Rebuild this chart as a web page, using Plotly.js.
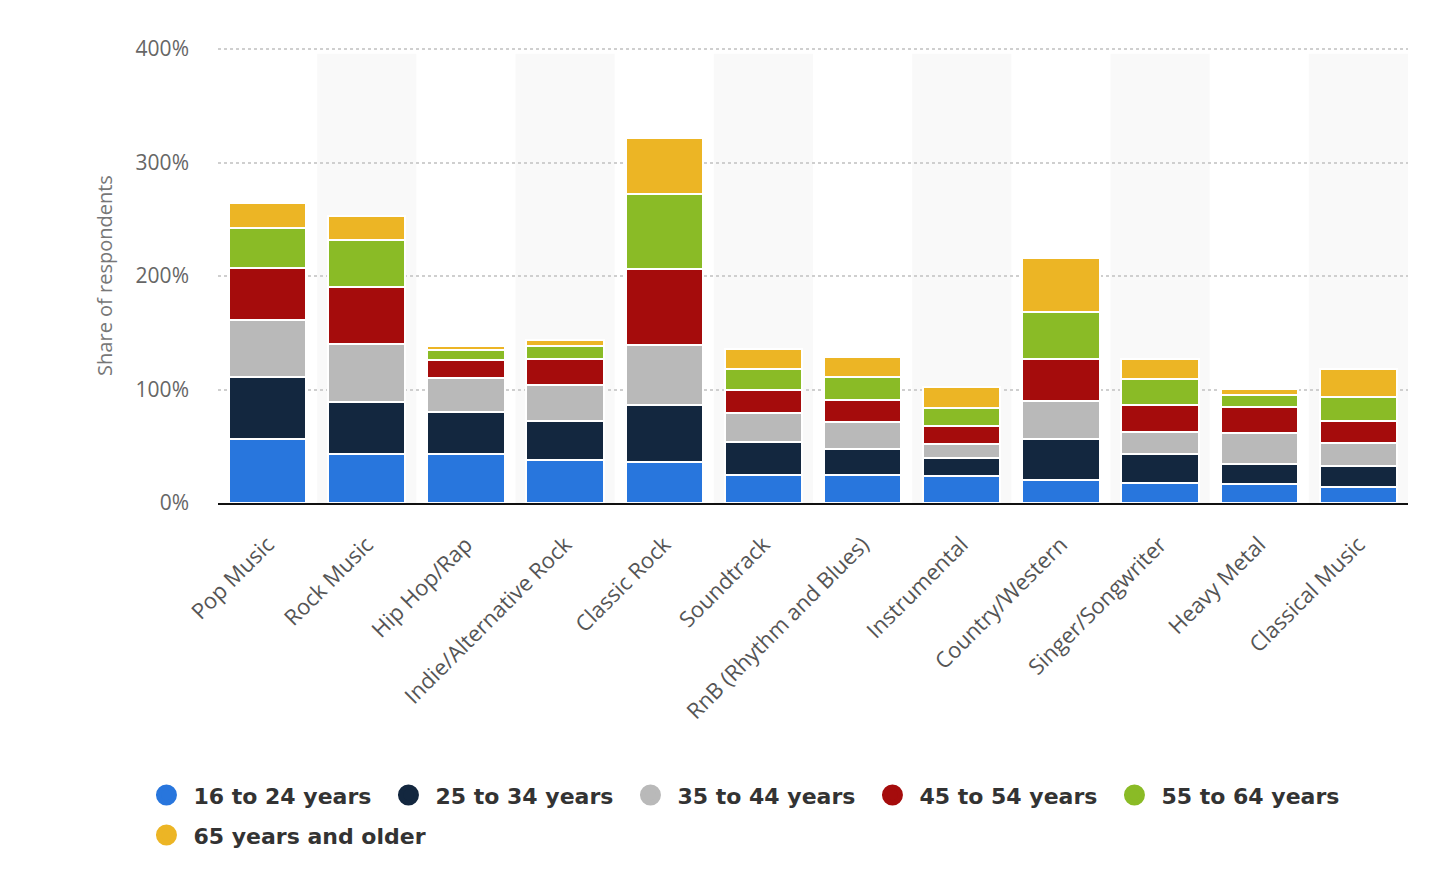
<!DOCTYPE html>
<html>
<head>
<meta charset="utf-8">
<script src="https://cdn.plot.ly/plotly-3.0.1.min.js"></script>
<style>
  html, body {margin: 0; padding: 0; background: #fff;}
  #chart {width: 1454px; height: 890px;}
</style>
</head>
<body>
<div id="chart"></div>
<script>
var genres = ['Pop Music', 'Rock Music', 'Hip Hop/Rap', 'Indie/Alternative Rock', 'Classic Rock',
  'Soundtrack', 'RnB (Rhythm and Blues)', 'Instrumental', 'Country/Western', 'Singer/Songwriter',
  'Heavy Metal', 'Classical Music'];

var ageGroups = ['16 to 24 years', '25 to 34 years', '35 to 44 years', '45 to 54 years',
  '55 to 64 years', '65 years and older'];

var age16to24 = [56, 43, 43, 38, 36, 25, 25, 23.5, 20, 18, 16.5, 14.5];
var age25to34 = [55, 46, 37, 34, 50, 29, 23, 16, 36, 25, 18, 18];
var age35to44 = [50, 51, 30, 32, 53, 25, 23, 12.5, 34, 20, 27, 20];
var age45to54 = [46, 50, 16, 23, 67, 21, 20, 16, 37, 23, 23, 19.5];
var age55to64 = [35, 42, 9, 11, 66, 18, 20, 16, 41, 23, 11, 21.5];
var age65plus = [22, 21, 3, 6, 50, 18, 18, 18, 48, 18, 5, 25];

var yTickVals = [0, 100, 200, 300, 400];
var yTickText = ['0%', '100%', '200%', '300%', '400%'];

var colors = ['#2876dd', '#13273f', '#b9b9b9', '#a50c0c', '#8abb26', '#ecb525'];

function stacked_chart(){
    var series = [age16to24, age25to34, age35to44, age45to54, age55to64, age65plus];
    var data = [];
    series.forEach(function(values, i){
	data.push({
	    name: ageGroups[i],
	    type: 'bar',
	    x: genres,
	    y: values,
	    width: 0.78,
	    marker: {color: colors[i], line: {color: '#ffffff', width: 2}},
	    legendgroup: ageGroups[i],
	    showlegend: false,
	    hoverinfo: 'none'
	});
    });
    // round legend markers, last one goes on its own row
    series.forEach(function(values, i){
	data.push({
	    name: ageGroups[i],
	    type: 'scatter',
	    mode: 'markers',
	    x: [null],
	    y: [null],
	    marker: {color: colors[i], size: 16, symbol: 'circle', line: {color: colors[i], width: 5}},
	    legendgroup: ageGroups[i],
	    legend: i < 5 ? 'legend' : 'legend2',
	    hoverinfo: 'none'
	});
    });

    // light bands behind every second genre
    var shapes = [];
    genres.forEach(function(g, i){
	if (i % 2 === 1){
	    shapes.push({type: 'rect', layer: 'below', xref: 'x', yref: 'y',
			 x0: i - 0.5, x1: i + 0.5, y0: 0, y1: 396,
			 fillcolor: '#f9f9f9', line: {width: 0}});
	}
    });

    var legendFont = {family: 'DejaVu Sans, sans-serif', size: 22, color: '#333', weight: 'bold'};

    var layout = {
	width: 1454, height: 890,
	margin: {l: 218, r: 46, t: 48, b: 387},
	barmode: 'stack',
	paper_bgcolor: '#fff', plot_bgcolor: '#fff',
	font: {family: 'Open Sans, sans-serif', color: '#666'},
	shapes: shapes,
	xaxis: {
	    type: 'category',
	    range: [-0.5, 11.5],
	    tickangle: -45,
	    tickfont: {size: 22, color: '#555'},
	    ticklabelstandoff: 18,
	    showgrid: false,
	    showline: true, linecolor: '#111', linewidth: 2,
	    ticks: '', fixedrange: true
	},
	yaxis: {
	    range: [0, 401],
	    tickmode: 'array',
	    tickvals: yTickVals,
	    ticktext: yTickText,
	    tickfont: {size: 21, color: '#666'},
	    ticklabelstandoff: 28,
	    showgrid: true, gridcolor: '#cfcfcf', gridwidth: 2, griddash: 'dot',
	    zeroline: false, showline: false,
	    title: {text: 'Share of respondents', font: {size: 20, color: '#777'}, standoff: 17},
	    fixedrange: true
	},
	legend: {
	    orientation: 'h',
	    x: -0.066, xanchor: 'left',
	    y: -0.596, yanchor: 'top',
	    font: legendFont,
	    itemwidth: 44,
	    entrywidth: 183,
	    traceorder: 'normal',
	    itemclick: false, itemdoubleclick: false
	},
	legend2: {
	    orientation: 'h',
	    x: -0.066, xanchor: 'left',
	    y: -0.684, yanchor: 'top',
	    font: legendFont,
	    itemwidth: 44,
	    itemclick: false, itemdoubleclick: false
	}
    };
    var config = {displayModeBar: false, staticPlot: true};
    Plotly.newPlot('chart', data, layout, config);
}

stacked_chart();
</script>
</body>
</html>
